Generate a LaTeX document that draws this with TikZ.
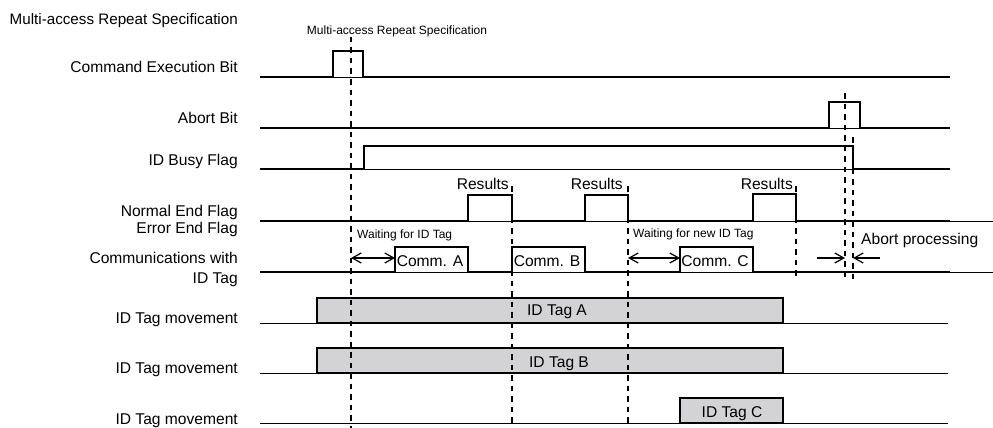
\documentclass[tikz,border=0pt]{standalone}
\usepackage{fontspec}
\setmainfont{Liberation Sans}
\usetikzlibrary{arrows.meta}
\definecolor{tagfill}{RGB}{211,211,213}
\begin{document}
\begin{tikzpicture}[x=1pt,y=-1pt,
  lbl/.style={anchor=east, inner sep=0pt, font=\fontsize{15.6}{18}\selectfont, text height=11.2pt, text depth=0pt},
  txt/.style={inner sep=0pt, font=\fontsize{15.6}{18}\selectfont, text height=11.2pt, text depth=0pt},
  small/.style={inner sep=0pt, font=\fontsize{12}{14}\selectfont, text height=8.6pt, text depth=0pt},
  wave/.style={line width=2pt, line join=miter},
  baseln/.style={line width=0.9pt},
  guide/.style={line width=2.2pt, dash pattern=on 5.5pt off 5pt},
  tagbox/.style={draw, line width=2pt, fill=tagfill, inner sep=0pt},
  dim/.style={line width=1.2pt, {Straight Barb[length=9pt,width=10pt]}-{Straight Barb[length=9pt,width=10pt]}},
  pointer/.style={line width=1.2pt, -{Straight Barb[length=9pt,width=10pt]}}]
\useasboundingbox (0,0) rectangle (993,428);

% ---- left labels
\node[lbl, font=\fontsize{15.2}{18}\selectfont] (lmulti) at (238,18.5) {Multi-access Repeat Specification};
\node[lbl] (lcmd) at (238,67) {Command Execution Bit};
\node[lbl] (labort) at (238,117.5) {Abort Bit};
\node[lbl] (lbusy) at (238,160) {ID Busy Flag};
\node[lbl] (lnormal) at (238,210.5) {Normal End Flag};
\node[lbl] (lerror) at (238,227.5) {Error End Flag};
\node[lbl] (lcomm1) at (238,257.5) {Communications with};
\node[lbl] (lcomm2) at (238,277.5) {ID Tag};
\node[lbl] (lmovA) at (238,317.5) {ID Tag movement};
\node[lbl] (lmovB) at (238,368) {ID Tag movement};
\node[lbl] (lmovC) at (238,419) {ID Tag movement};

% ---- thin baselines
\draw[baseln] (260,77) -- (950,77);
\draw[baseln] (260,128) -- (950,128);
\draw[baseln] (364,169) -- (853,169);
\draw[baseln] (260,221) -- (993,221);
\draw[baseln] (260,272) -- (993,272);
\draw[baseln] (260,323) -- (948,323);
\draw[baseln] (260,373) -- (948,373);
\draw[baseln] (260,423) -- (948,423);

% ---- waveforms
\draw[wave] (260,77) -- (333,77) -- (333,51) -- (363,51) -- (363,77) -- (950,77);
\draw[wave] (260,128) -- (829,128) -- (829,102) -- (860,102) -- (860,128) -- (950,128);
\draw[wave] (260,169) -- (364,169) -- (364,146) -- (853,146) -- (853,169) -- (950,169);
\draw[wave] (260,221) -- (468,221) -- (468,195) -- (512,195) -- (512,221)
  -- (585,221) -- (585,195) -- (628,195) -- (628,221)
  -- (753,221) -- (753,194) -- (796,194) -- (796,221) -- (950,221);
\draw[wave] (260,272) -- (395,272) -- (395,247) -- (468,247) -- (468,272)
  -- (512,272) -- (512,247) -- (585,247) -- (585,272)
  -- (680,272) -- (680,247) -- (753,247) -- (753,272) -- (950,272);

% ---- communication labels
\node[txt] (commA) at (430,261) {Comm. A};
\node[txt] (commB) at (547,261) {Comm. B};
\node[txt] (commC) at (715,261) {Comm. C};

% ---- ID tag boxes
\node[tagbox, minimum width=466pt, minimum height=25pt] (boxA) at (550,310.5) {};
\node[tagbox, minimum width=466pt, minimum height=25pt] (boxB) at (550,360.5) {};
\node[tagbox, minimum width=103pt, minimum height=25pt] (boxC) at (731.5,410.5) {};
\node[txt] (tagA) at (557,310) {ID Tag A};
\node[txt] (tagB) at (559,362) {ID Tag B};
\node[txt] (tagC) at (732,411.5) {ID Tag C};

% ---- result labels
\node[txt, anchor=east] (res1) at (509,183.5) {Results};
\node[txt, anchor=east] (res2) at (623,183.5) {Results};
\node[txt, anchor=east] (res3) at (793,183.5) {Results};

% ---- small texts
\node[small] (mtop) at (397,30) {Multi-access Repeat Specification};
\node[small, anchor=west] (wait1) at (357,234) {Waiting for ID Tag};
\node[small, anchor=west] (wait2) at (633,233) {Waiting for new ID Tag};
\node[txt, anchor=west] (abproc) at (861,238.5) {Abort processing};

% ---- dashed guide lines
\coordinate (d1t) at (351,37);  \coordinate (d1b) at (351,428);
\coordinate (d2t) at (512,186); \coordinate (d2b) at (512,428);
\coordinate (d3t) at (628,186); \coordinate (d3b) at (628,428);
\coordinate (d4t) at (796,186); \coordinate (d4b) at (796,277);
\coordinate (d5t) at (845,93);  \coordinate (d5b) at (845,279);
\coordinate (d6t) at (853,137); \coordinate (d6b) at (853,279);
\draw[guide] (d1t) -- (d1b);
\draw[guide] (d2t) -- (d2b);
\draw[guide] (d3t) -- (d3b);
\draw[guide] (d4t) -- (d4b);
\draw[guide] (d5t) -- (d5b);
\draw[guide] (d6t) -- (d6b);

% ---- dimension arrows
\coordinate (w1a) at (351,258); \coordinate (w1b) at (395,258);
\coordinate (w2a) at (628,258); \coordinate (w2b) at (680,258);
\coordinate (ab1) at (817,258); \coordinate (ab2) at (845,258);
\coordinate (ab3) at (880,258); \coordinate (ab4) at (853,258);
\draw[dim] (w1a) -- (w1b);
\draw[dim] (w2a) -- (w2b);
\draw[pointer] (ab1) -- (ab2);
\draw[pointer] (ab3) -- (ab4);
\end{tikzpicture}
\end{document}
